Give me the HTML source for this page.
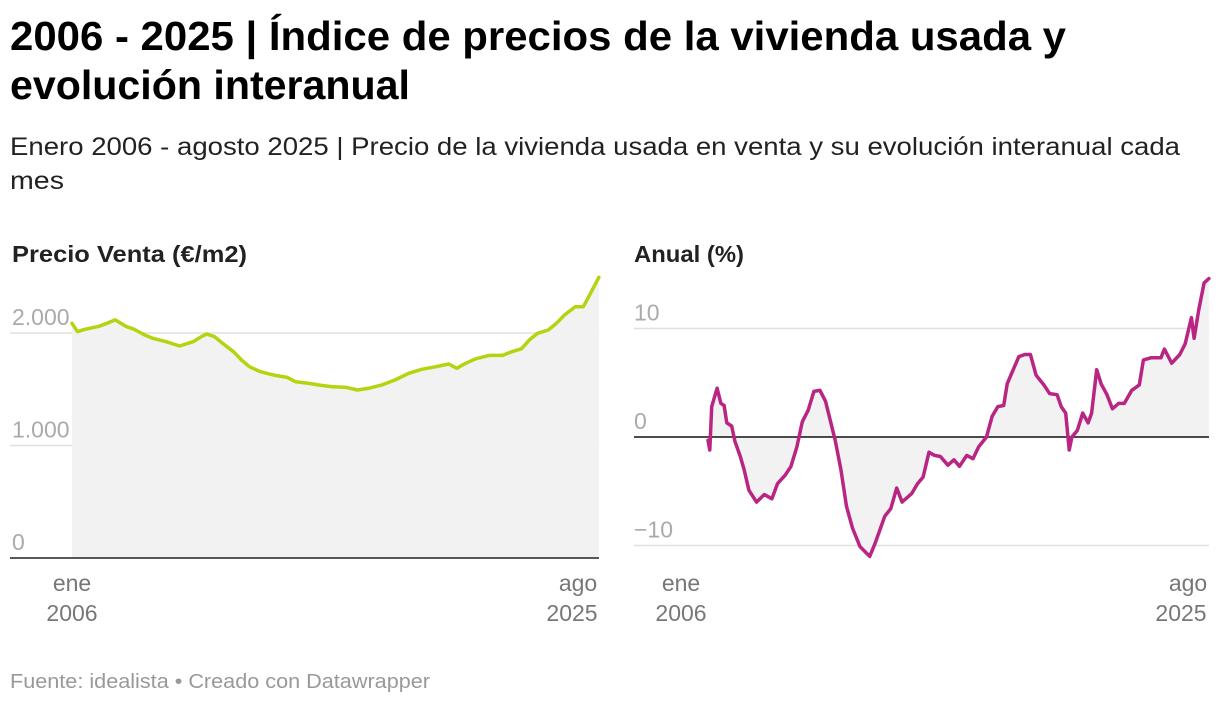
<!DOCTYPE html>
<html><head><meta charset="utf-8">
<style>
body{margin:0;background:#fff;font-family:"Liberation Sans",sans-serif;}
#wrap{position:relative;width:1220px;height:704px;overflow:hidden;}
svg text{font-family:"Liberation Sans",sans-serif;}
</style></head><body>
<div id="wrap">
<svg id="svg" width="1220" height="704">
<text x="10" y="50" font-size="41" font-weight="bold" fill="#000" textLength="1056" lengthAdjust="spacingAndGlyphs">2006 - 2025 | Índice de precios de la vivienda usada y</text>
<text x="10" y="99" font-size="41" font-weight="bold" fill="#000" textLength="400" lengthAdjust="spacingAndGlyphs">evolución interanual</text>
<text x="10" y="155" font-size="25" fill="#222" textLength="1170" lengthAdjust="spacingAndGlyphs">Enero 2006 - agosto 2025 | Precio de la vivienda usada en venta y su evolución interanual cada</text>
<text x="10" y="189" font-size="25" fill="#222" textLength="54" lengthAdjust="spacingAndGlyphs">mes</text>
<text x="12" y="262" font-size="23" font-weight="bold" fill="#222" textLength="235" lengthAdjust="spacingAndGlyphs">Precio Venta (€/m2)</text>
<text x="634" y="262" font-size="23" font-weight="bold" fill="#222" textLength="110" lengthAdjust="spacingAndGlyphs">Anual (%)</text>
<text x="10" y="688" font-size="20" fill="#999" textLength="420" lengthAdjust="spacingAndGlyphs">Fuente: idealista • Creado con Datawrapper</text>
<g id="left"></g>
<g id="right"></g>
</svg>
</div>
<script>
const priceYears=[2006.0,2006.2,2006.5,2007.0,2007.3,2007.6,2008.0,2008.3,2008.7,2009.0,2009.5,2010.0,2010.5,2010.8,2011.0,2011.3,2011.6,2012.0,2012.3,2012.6,2013.0,2013.5,2014.0,2014.3,2014.8,2015.2,2015.7,2016.2,2016.6,2017.0,2017.5,2018.0,2018.5,2019.0,2019.5,2020.0,2020.3,2020.6,2021.0,2021.5,2022.0,2022.3,2022.7,2023.0,2023.3,2023.7,2024.0,2024.3,2024.7,2025.0,2025.2,2025.58];
const priceValues=[2086,2012,2034,2060,2086,2116,2060,2034,1982,1953,1923,1884,1923,1967,1991,1967,1908,1834,1760,1700,1656,1626,1605,1567,1552,1537,1522,1516,1493,1508,1537,1582,1641,1677,1700,1724,1686,1727,1771,1801,1801,1830,1860,1940,1997,2027,2086,2160,2234,2234,2323,2495];
const priceTicks=[0,1000,2000];
const priceTickLabels=["0","1.000","2.000"];
const annualYears=[2007.0,2007.07,2007.14,2007.34,2007.48,2007.6,2007.7,2007.88,2008.0,2008.2,2008.34,2008.52,2008.8,2009.09,2009.37,2009.58,2009.87,2010.08,2010.3,2010.5,2010.72,2010.93,2011.15,2011.36,2011.5,2011.72,2011.93,2012.14,2012.36,2012.64,2013.0,2013.2,2013.56,2013.78,2014.0,2014.2,2014.56,2014.77,2014.98,2015.2,2015.4,2015.62,2015.9,2016.12,2016.33,2016.6,2016.83,2017.04,2017.33,2017.54,2017.75,2017.97,2018.1,2018.32,2018.53,2018.75,2018.96,2019.17,2019.46,2019.67,2019.95,2020.1,2020.27,2020.4,2020.5,2020.7,2020.9,2021.1,2021.23,2021.42,2021.58,2021.8,2022.0,2022.23,2022.44,2022.72,2023.0,2023.15,2023.43,2023.8,2023.93,2024.2,2024.5,2024.7,2024.93,2025.03,2025.2,2025.4,2025.58];
const annualValues=[-0.3,-1.2,2.8,4.5,3.1,2.9,1.3,1.0,-0.4,-1.8,-3.0,-4.9,-6.0,-5.3,-5.7,-4.3,-3.5,-2.7,-0.9,1.4,2.5,4.2,4.3,3.3,1.9,-0.3,-3.0,-6.4,-8.4,-10.1,-11.0,-9.8,-7.3,-6.6,-4.7,-6.0,-5.2,-4.3,-3.7,-1.4,-1.7,-1.8,-2.6,-2.1,-2.7,-1.7,-2.0,-0.9,0,1.9,2.8,2.9,4.9,6.2,7.4,7.6,7.6,5.7,4.8,4.0,3.9,2.8,2.2,-1.2,0,0.6,2.2,1.3,2.2,6.2,4.9,3.9,2.6,3.1,3.1,4.3,4.8,7.1,7.3,7.3,8.1,6.8,7.6,8.6,11.0,9.1,11.7,14.2,14.6];
const annualTicks=[-10,0,10];
const annualTickLabels=["−10","0","10"];
const NS="http://www.w3.org/2000/svg";
function mk(tag,attrs,parent){const e=document.createElementNS(NS,tag);for(const k in attrs)e.setAttribute(k,attrs[k]);parent.appendChild(e);return e;}
function txt(s,x,y,attrs,parent){const e=mk('text',Object.assign({x:x,y:y},attrs),parent);e.textContent=s;return e;}
const END=2025+7/12;
const L=document.getElementById('left');
const lx=t=>72+(t-2006)/(END-2006)*527;
const ly=v=>558-v*0.1125;
priceTicks.forEach((t,i)=>{
 if(t!==0){const g=mk('line',{x1:10,x2:599,y1:ly(t),y2:ly(t),stroke:'#e0e0e0','stroke-width':1.5},L);
 }
});
let pts=priceYears.map((t,i)=>lx(t).toFixed(1)+','+ly(priceValues[i]).toFixed(1));
const la=mk('path',{d:'M'+lx(priceYears[0])+','+ly(0)+' L'+pts.join(' L')+' L'+lx(priceYears[priceYears.length-1])+','+ly(0)+'Z',fill:'#f2f2f2'},L);

priceTicks.forEach((t,i)=>{
 const tl=txt(priceTickLabels[i],12,ly(t)-8,{'font-size':23,fill:'#aaa'},L);
 
});
const lb=mk('line',{x1:10,x2:599,y1:558,y2:558,stroke:'#222','stroke-width':1.5},L);

const ll=mk('path',{d:'M'+pts.join(' L'),fill:'none',stroke:'#b5d30e','stroke-width':3.5,'stroke-linejoin':'round','stroke-linecap':'round'},L);

[['ene','2006',72,72],['ago','2025',578,572]].forEach(([a,b,x1,x2])=>{
 const t1=txt(a,x1,591,{'font-size':23,fill:'#777','text-anchor':'middle'},L);
 
 const t2=txt(b,x2,621,{'font-size':23,fill:'#777','text-anchor':'middle'},L);
 
});
const R=document.getElementById('right');
const rx=t=>681+(t-2006)/(END-2006)*528;
const ry=v=>437-v*10.85;
let rp=annualYears.map((t,i)=>rx(t).toFixed(1)+','+ry(annualValues[i]).toFixed(1));
annualTicks.forEach((t,i)=>{
 if(t!==0){const g=mk('line',{x1:634,x2:1209,y1:ry(t),y2:ry(t),stroke:'#e0e0e0','stroke-width':1.5},R);
 }
});
const ra=mk('path',{d:'M'+rx(annualYears[0])+','+ry(0)+' L'+rp.join(' L')+' L'+rx(annualYears[annualYears.length-1])+','+ry(0)+'Z',fill:'#f2f2f2'},R);

annualTicks.forEach((t,i)=>{
 const tl=txt(annualTickLabels[i],634,ry(t)-8,{'font-size':23,fill:'#aaa'},R);
 
});
const rz=mk('line',{x1:634,x2:1209,y1:ry(0),y2:ry(0),stroke:'#111','stroke-width':1.5},R);

const rl=mk('path',{d:'M'+rp.join(' L'),fill:'none',stroke:'#b82583','stroke-width':3.5,'stroke-linejoin':'round','stroke-linecap':'round'},R);

[['ene','2006',681,681],['ago','2025',1188,1181]].forEach(([a,b,x1,x2])=>{
 const t1=txt(a,x1,591,{'font-size':23,fill:'#777','text-anchor':'middle'},R);
 
 const t2=txt(b,x2,621,{'font-size':23,fill:'#777','text-anchor':'middle'},R);
 
});
</script>
</body></html>
